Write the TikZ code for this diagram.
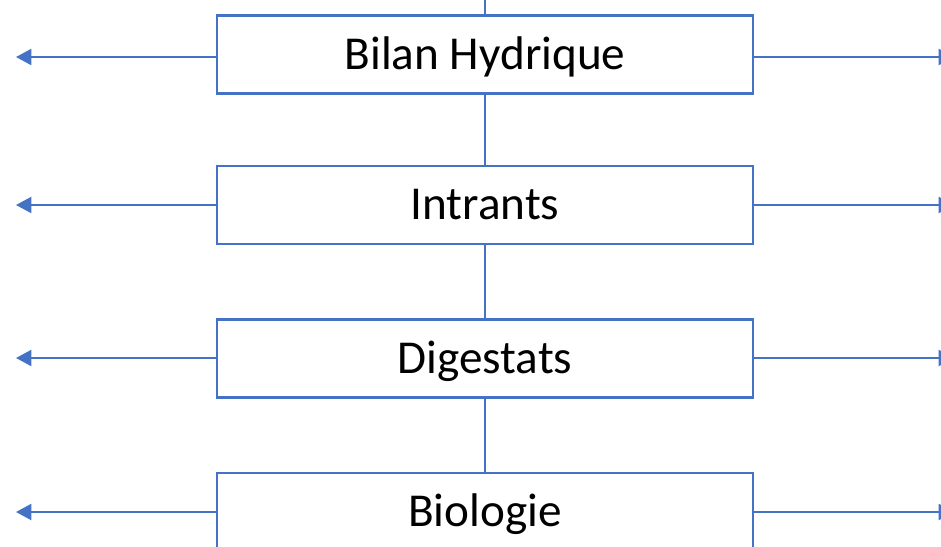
\documentclass[tikz,border=0pt]{standalone}
\usepackage{fontspec}
\setmainfont{Carlito}
\usetikzlibrary{arrows.meta}
\definecolor{boxblue}{HTML}{4472C4}
\begin{document}
\begin{tikzpicture}[x=0.75pt,y=-0.75pt,
  catbox/.style={draw=boxblue,line width=1.6pt,fill=white,rectangle,
    minimum width=402pt,minimum height=58.5pt,inner sep=0pt,
    text height=30pt,text depth=8pt,font=\fontsize{35.4}{42}\selectfont},
  arrowline/.style={draw=boxblue,line width=1.6pt,-{Triangle[length=11.5pt,width=12pt]}},
  stemline/.style={draw=boxblue,line width=0.8pt}]
\useasboundingbox (0,0) rectangle (941,546);
\clip (0,0) rectangle (941,546);
\coordinate (top) at (485,0);
\node[catbox] (b1) at (485,54.5) {Bilan Hydrique};
\node[catbox] (b2) at (485,205) {Intrants};
\node[catbox] (b3) at (485,358.5) {Digestats};
\node[catbox] (b4) at (485,512) {Biologie};
\draw[stemline] (top) -- (b1.north);
\draw[stemline] (b1.south) -- (b2.north);
\draw[stemline] (b2.south) -- (b3.north);
\draw[stemline] (b3.south) -- (b4.north);
\foreach \b/\y in {b1/57,b2/205,b3/358,b4/512}{
  \coordinate (\b L) at (16,\y);
  \coordinate (\b R) at (954,\y);
  \draw[arrowline] (\b.west |- \b L) -- (\b L);
  \draw[arrowline] (\b.east |- \b R) -- (\b R);
}
\end{tikzpicture}
\end{document}
